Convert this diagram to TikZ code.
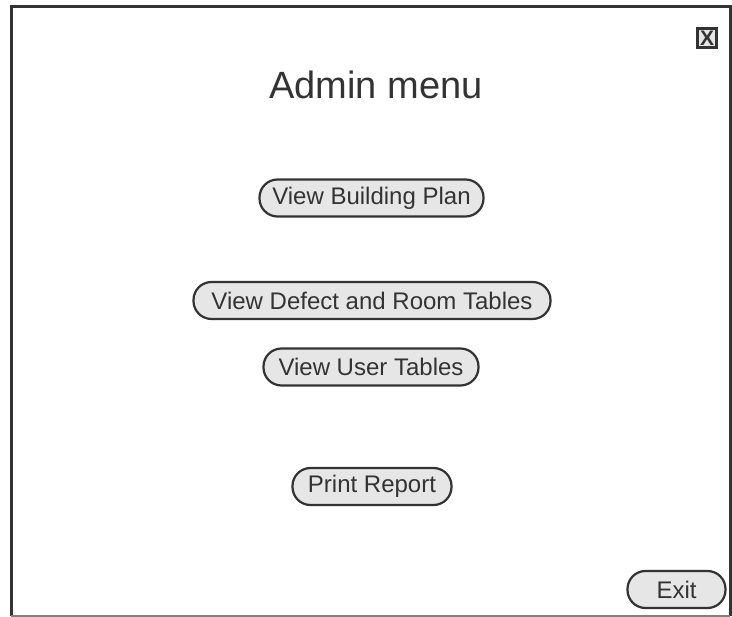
\documentclass[tikz,border=0pt]{standalone}
\usepackage{fontspec}
\setmainfont{Liberation Sans}
\definecolor{ink}{HTML}{333333}
\definecolor{btn}{HTML}{E6E6E6}
\begin{document}
\begin{tikzpicture}
  [x=1pt,y=-1pt,every node/.style={text=ink},
   button/.style={draw=ink,fill=btn,line width=2.2pt,rounded corners=18pt,
     minimum height=37pt,inner xsep=0pt,font=\fontsize{24}{27}\selectfont}]
  \useasboundingbox (0,0) rectangle (732,617);
  \fill[white] (0,0) rectangle (732,617);
  \draw[ink,line width=3pt] (11,616) -- (11,7) -- (730,7) -- (730,616);
  \draw[gray,line width=2pt] (11,616) -- (730,616);

  \node (close)[draw=ink,fill=btn,line width=2.4pt,minimum size=19pt,inner sep=0pt,
    font=\fontsize{21}{21}\selectfont\bfseries] at (707,38) {X};
  \node (title)[font=\fontsize{38}{42}\selectfont] at (376,85) {Admin menu};

  \node (b1)[button,minimum width=224pt] at (371.5,198) {View Building Plan};
  \node (b2)[button,minimum width=357pt] at (372,300.5) {View Defect and Room Tables};
  \node (b3)[button,minimum width=215pt] at (371,367) {View User Tables};
  \node (b4)[button,minimum width=159pt] at (372,486.5) {Print Report};
  \node (exit)[button,minimum width=98pt] at (676.5,589.5) {Exit};
\end{tikzpicture}
\end{document}
